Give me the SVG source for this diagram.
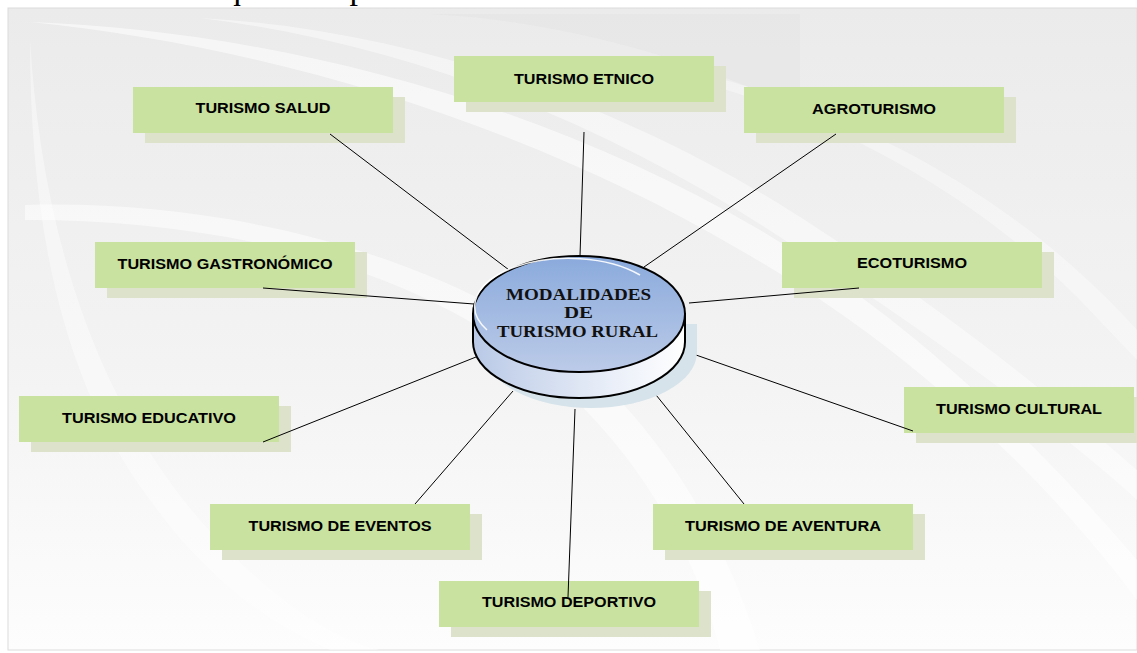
<svg xmlns="http://www.w3.org/2000/svg" width="1137" height="653" viewBox="0 0 1137 653">
<defs>
<style>
.box{fill:#c9e2a0}
.sh{fill:#dde2cb}
.lbl{font-family:"Liberation Sans",Arial,sans-serif;font-weight:bold;font-size:14px;fill:#000;text-anchor:middle}
.cl{font-family:"Liberation Serif","Times New Roman",serif;font-weight:bold;font-size:16px;fill:#111;text-anchor:middle}
.con line{stroke:#000;stroke-width:1}
.sw{fill:#ffffff}
</style>
<linearGradient id="bg" x1="0" y1="0" x2="0" y2="1">
<stop offset="0" stop-color="#ebebeb"/>
<stop offset="0.55" stop-color="#f3f3f3"/>
<stop offset="1" stop-color="#fdfdfd"/>
</linearGradient>
<linearGradient id="top" x1="0" y1="0" x2="0" y2="1">
<stop offset="0" stop-color="#8aaadc"/>
<stop offset="1" stop-color="#bccbe8"/>
</linearGradient>
<linearGradient id="side" x1="0" y1="0" x2="1" y2="0">
<stop offset="0" stop-color="#b9c9e6"/>
<stop offset="0.6" stop-color="#e6ecf7"/>
<stop offset="1" stop-color="#ffffff"/>
</linearGradient>
</defs>

<rect x="0" y="0" width="1137" height="653" fill="#ffffff"/>
<text x="190" y="-0.8" font-family="Liberation Serif,'Times New Roman',serif" font-size="34" fill="#000">Esquema representativo de las modalidades de turismo rural.</text>

<g id="background">
<rect x="8" y="8" width="1129" height="642" fill="url(#bg)" stroke="#dcdcdc" stroke-width="1"/>
<path class="sw" opacity="0.55" d="M30,22 C250,30 520,90 760,230 C930,330 1060,470 1137,560 L1137,600 C1040,470 900,340 740,250 C520,120 260,45 30,22 Z"/>
<path class="sw" opacity="0.45" d="M200,18 C420,30 640,110 820,230 C960,320 1080,420 1137,470 L1137,500 C1060,430 940,340 800,250 C620,130 420,45 200,18 Z"/>
<path class="sw" opacity="0.5" d="M25,205 C200,200 380,240 520,320 C640,390 720,520 760,650 L720,650 C690,530 610,410 500,340 C370,255 200,220 25,220 Z"/>
<path class="sw" opacity="0.35" d="M600,60 C780,90 950,170 1080,300 L1137,360 L1137,330 C1020,200 850,100 640,60 Z"/>
<path class="sw" opacity="0.4" d="M30,40 C40,200 80,380 200,520 C260,590 330,640 380,650 L330,650 C260,620 200,570 150,500 C60,380 30,220 30,40 Z"/>
<path fill="#e3e3e3" opacity="0.5" d="M430,14 C560,20 700,60 800,110 L800,14 Z"/>
</g>

<g id="n-etnico"><rect class="sh" x="466" y="66" width="260" height="46"/><rect class="box" x="454" y="56" width="260" height="46"/><text class="lbl" x="584" y="84" textLength="140" lengthAdjust="spacingAndGlyphs">TURISMO ETNICO</text></g>
<g id="n-salud"><rect class="sh" x="145" y="97" width="260" height="46"/><rect class="box" x="133" y="87" width="260" height="46"/><text class="lbl" x="263" y="113" textLength="135" lengthAdjust="spacingAndGlyphs">TURISMO SALUD</text></g>
<g id="n-agro"><rect class="sh" x="756" y="97" width="260" height="46"/><rect class="box" x="744" y="87" width="260" height="46"/><text class="lbl" x="874" y="114" textLength="124" lengthAdjust="spacingAndGlyphs">AGROTURISMO</text></g>
<g id="n-gastro"><rect class="sh" x="107" y="252" width="260" height="46"/><rect class="box" x="95" y="242" width="260" height="46"/><text class="lbl" x="225" y="269" textLength="215" lengthAdjust="spacingAndGlyphs">TURISMO GASTRONÓMICO</text></g>
<g id="n-eco"><rect class="sh" x="794" y="252" width="260" height="46"/><rect class="box" x="782" y="242" width="260" height="46"/><text class="lbl" x="912" y="268" textLength="110" lengthAdjust="spacingAndGlyphs">ECOTURISMO</text></g>
<g id="n-educativo"><rect class="sh" x="31" y="406" width="260" height="46"/><rect class="box" x="19" y="396" width="260" height="46"/><text class="lbl" x="149" y="423" textLength="174" lengthAdjust="spacingAndGlyphs">TURISMO EDUCATIVO</text></g>
<g id="n-cultural"><rect class="sh" x="916" y="397" width="230" height="46"/><rect class="box" x="904" y="387" width="230" height="46"/><text class="lbl" x="1019" y="414" textLength="166" lengthAdjust="spacingAndGlyphs">TURISMO CULTURAL</text></g>
<g id="n-eventos"><rect class="sh" x="222" y="514" width="260" height="46"/><rect class="box" x="210" y="504" width="260" height="46"/><text class="lbl" x="340" y="531" textLength="183" lengthAdjust="spacingAndGlyphs">TURISMO DE EVENTOS</text></g>
<g id="n-aventura"><rect class="sh" x="665" y="514" width="260" height="46"/><rect class="box" x="653" y="504" width="260" height="46"/><text class="lbl" x="783" y="531" textLength="196" lengthAdjust="spacingAndGlyphs">TURISMO DE AVENTURA</text></g>
<g id="n-deportivo"><rect class="sh" x="451" y="591" width="260" height="46"/><rect class="box" x="439" y="581" width="260" height="46"/><text class="lbl" x="569" y="607" textLength="174" lengthAdjust="spacingAndGlyphs">TURISMO DEPORTIVO</text></g>

<g id="connectors" class="con">
<line x1="330" y1="134" x2="513" y2="273"/>
<line x1="584" y1="132" x2="580" y2="256"/>
<line x1="836" y1="134" x2="644" y2="267"/>
<line x1="263" y1="288" x2="474" y2="304"/>
<line x1="859" y1="288" x2="689" y2="303"/>
<line x1="263" y1="442" x2="476" y2="357"/>
<line x1="913" y1="431" x2="696" y2="355"/>
<line x1="415" y1="504" x2="513" y2="391"/>
<line x1="744" y1="504" x2="648" y2="385"/>
<line x1="568" y1="597" x2="575" y2="409"/>
</g>

<g id="n-center">
<path d="M485,324 L485,352 A106,56 0 0 0 697,352 L697,324 Z" fill="#d6e3ea"/>
<path d="M473,314 L473,342 A106,56 0 0 0 685,342 L685,314 Z" fill="url(#side)" stroke="#000" stroke-width="2"/>
<ellipse cx="579" cy="314" rx="106" ry="58" fill="url(#top)" stroke="#000" stroke-width="2"/>
<path d="M487,330 A94,48 0 0 1 640,275" fill="none" stroke="#ffffff" stroke-width="1.5" opacity="0.9"/>
<text class="cl" x="578.5" y="300" textLength="145" lengthAdjust="spacingAndGlyphs">MODALIDADES</text>
<text class="cl" x="578.5" y="318" textLength="29" lengthAdjust="spacingAndGlyphs">DE</text>
<text class="cl" x="577.5" y="337" textLength="161" lengthAdjust="spacingAndGlyphs">TURISMO RURAL</text>
</g>
</svg>
